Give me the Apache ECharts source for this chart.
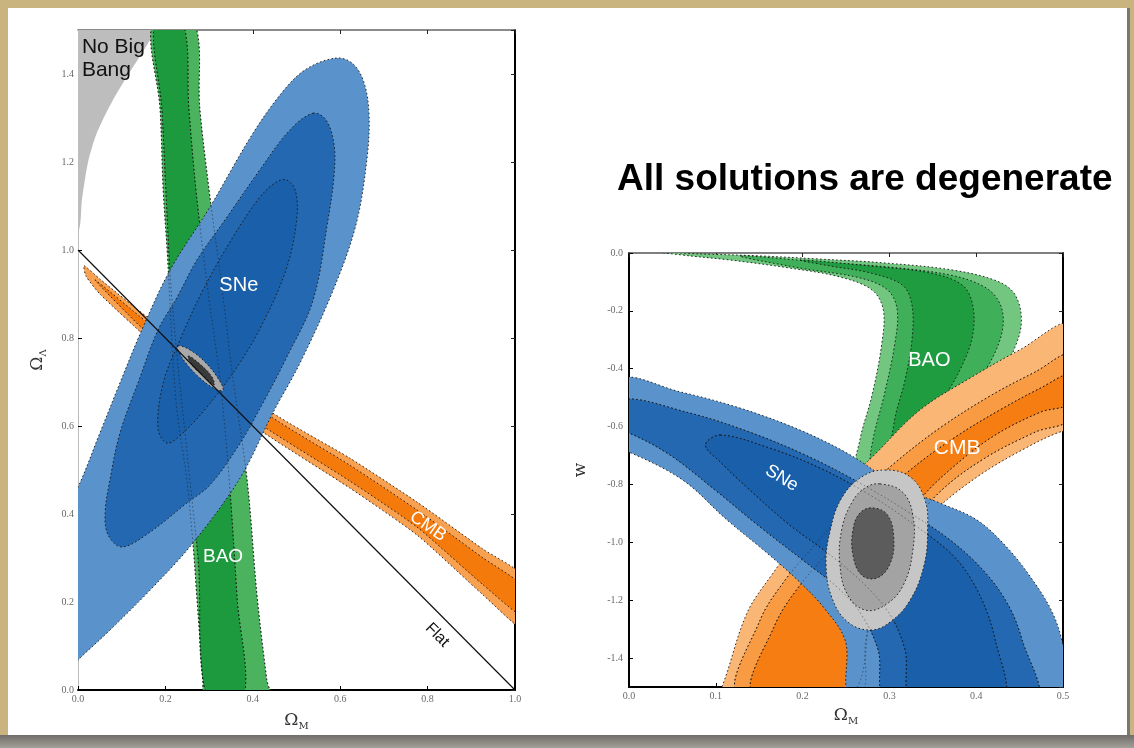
<!DOCTYPE html>
<html>
<head>
<meta charset="utf-8">
<script src="https://cdn.jsdelivr.net/npm/echarts@6/dist/echarts.min.js"></script>
<style>
html, body { margin: 0; padding: 0; }
body { width: 1134px; height: 748px; background: #c9b47f; position: relative; overflow: hidden; }
#panel { position: absolute; left: 8px; top: 8px; width: 1120px; height: 727px; background: #fff; }
#edge { position: absolute; left: 1127px; top: 8px; width: 3px; height: 727px; background: #7a7872; }
#foot { position: absolute; left: 0; top: 735px; width: 1134px; height: 13px; background: linear-gradient(#6f6d68, #a3a098); }
#chart { position: absolute; left: 0; top: 0; width: 1134px; height: 748px; }
</style>
</head>
<body>
<div id="panel"></div>
<div id="edge"></div>
<div id="foot"></div>
<div id="chart"></div>
<script>
// ---- left panel: Omega_M vs Omega_Lambda (contour outlines, data coords) ----
var leftNoBigBang = [[-0.05, 1.6], [0.2, 1.6], [0.176, 1.5], [0.158, 1.466], [0.119, 1.405], [0.08, 1.341], [0.043, 1.266], [0.023, 1.2], [0.009, 1.114], [0, 1.04], [-0.05, 1.01]];
var leftBaoOuter = [[0.172, 1.523], [0.188, 1.318], [0.195, 1.136], [0.204, 1.0], [0.224, 0.659], [0.249, 0.477], [0.263, 0.334], [0.272, 0.211], [0.286, 0.016], [0.288, -0.023], [0.439, -0.023], [0.432, 0.023], [0.410, 0.211], [0.387, 0.477], [0.355, 0.705], [0.330, 0.909], [0.300, 1.136], [0.279, 1.318], [0.263, 1.523]];
var leftBaoInner = [[0.176, 1.523], [0.192, 1.318], [0.201, 1.136], [0.215, 0.886], [0.256, 0.477], [0.275, 0.295], [0.297, -0.023], [0.378, -0.023], [0.364, 0.211], [0.346, 0.477], [0.325, 0.705], [0.297, 0.909], [0.270, 1.136], [0.254, 1.318], [0.238, 1.523]];
var leftCmbOuter = [[0.014, 0.964], [0.050, 0.934], [0.158, 0.848], [0.279, 0.766], [0.439, 0.634], [0.622, 0.527], [0.776, 0.427], [0.927, 0.320], [1.023, 0.255], [1.023, 0.136], [0.927, 0.216], [0.776, 0.352], [0.622, 0.459], [0.423, 0.586], [0.279, 0.691], [0.158, 0.8], [0.050, 0.9], [0.018, 0.941]];
var leftCmbInner = [[0.039, 0.932], [0.158, 0.836], [0.279, 0.75], [0.439, 0.623], [0.622, 0.511], [0.776, 0.409], [0.927, 0.3], [1.023, 0.232], [1.023, 0.164], [0.927, 0.239], [0.776, 0.370], [0.622, 0.475], [0.423, 0.6], [0.279, 0.705], [0.158, 0.811]];
var leftSneOuter = [[0.588, 1.436], [0.627, 1.425], [0.654, 1.382], [0.666, 1.307], [0.661, 1.205], [0.636, 1.057], [0.584, 0.909], [0.508, 0.743], [0.446, 0.630], [0.371, 0.482], [0.263, 0.334], [0.165, 0.227], [0.073, 0.136], [0, 0.068], [-0.053, 0.011], [-0.087, 0.091], [-0.069, 0.273], [-0.037, 0.398], [0, 0.461], [0.050, 0.584], [0.096, 0.698], [0.149, 0.825], [0.211, 0.955], [0.302, 1.098], [0.394, 1.255], [0.462, 1.352], [0.519, 1.409]];
var leftSneMid = [[0.538, 1.311], [0.568, 1.295], [0.586, 1.239], [0.586, 1.170], [0.572, 1.068], [0.538, 0.886], [0.478, 0.757], [0.423, 0.652], [0.371, 0.561], [0.302, 0.466], [0.249, 0.425], [0.165, 0.359], [0.101, 0.325], [0.069, 0.352], [0.062, 0.402], [0.073, 0.477], [0.096, 0.584], [0.142, 0.711], [0.183, 0.818], [0.227, 0.893], [0.272, 0.977], [0.341, 1.075], [0.416, 1.182], [0.485, 1.273]];
var leftSneInner = [[0.478, 1.159], [0.497, 1.136], [0.501, 1.075], [0.478, 0.961], [0.423, 0.834], [0.364, 0.734], [0.295, 0.643], [0.240, 0.584], [0.204, 0.561], [0.183, 0.595], [0.195, 0.698], [0.233, 0.795], [0.286, 0.909], [0.355, 1.030], [0.416, 1.120], [0.455, 1.155]];
var leftJointOuter = [[0.229, 0.782], [0.256, 0.773], [0.291, 0.745], [0.320, 0.709], [0.332, 0.682], [0.314, 0.684], [0.279, 0.709], [0.247, 0.743], [0.231, 0.768]];
var leftJointInner = [[0.252, 0.759], [0.279, 0.741], [0.307, 0.711], [0.311, 0.693], [0.288, 0.714], [0.263, 0.736]];
var flatLine = [[0, 1], [1, 0]];

// ---- right panel: Omega_M vs w ----
var rightBaoOuter = [[0.036, 0.003], [0.082, -0.003], [0.151, -0.010], [0.220, -0.021], [0.297, -0.035], [0.373, -0.059], [0.424, -0.097], [0.445, -0.145], [0.452, -0.242], [0.442, -0.346], [0.427, -0.432], [0.393, -0.543], [0.347, -0.664], [0.301, -0.785], [0.263, -0.750], [0.266, -0.646], [0.280, -0.491], [0.291, -0.318], [0.293, -0.197], [0.280, -0.128], [0.243, -0.083], [0.185, -0.052], [0.116, -0.024], [0.070, -0.010]];
var rightBaoMid = [[0.128, -0.010], [0.220, -0.031], [0.297, -0.048], [0.370, -0.076], [0.410, -0.118], [0.427, -0.173], [0.431, -0.249], [0.422, -0.342], [0.404, -0.432], [0.370, -0.550], [0.329, -0.664], [0.289, -0.785], [0.278, -0.750], [0.281, -0.646], [0.294, -0.491], [0.306, -0.318], [0.309, -0.197], [0.298, -0.128], [0.266, -0.086], [0.197, -0.052]];
var rightBaoInner = [[0.197, -0.024], [0.278, -0.045], [0.347, -0.069], [0.384, -0.111], [0.396, -0.180], [0.396, -0.283], [0.384, -0.387], [0.364, -0.491], [0.329, -0.612], [0.301, -0.733], [0.306, -0.577], [0.318, -0.439], [0.326, -0.301], [0.326, -0.180], [0.315, -0.111], [0.278, -0.069], [0.232, -0.045]];
var rightCmbOuter = [[0.099, -1.528], [0.107, -1.500], [0.136, -1.244], [0.166, -1.106], [0.197, -0.982], [0.243, -0.819], [0.286, -0.688], [0.335, -0.543], [0.393, -0.432], [0.450, -0.335], [0.508, -0.249], [0.508, -0.622], [0.5, -0.615], [0.459, -0.671], [0.401, -0.774], [0.347, -0.906], [0.306, -1.061], [0.283, -1.234], [0.273, -1.528]];
var rightCmbMid = [[0.126, -1.528], [0.151, -1.269], [0.180, -1.130], [0.214, -1.009], [0.260, -0.854], [0.306, -0.726], [0.358, -0.605], [0.416, -0.494], [0.468, -0.411], [0.508, -0.353], [0.508, -0.570], [0.468, -0.619], [0.410, -0.709], [0.358, -0.826], [0.318, -0.975], [0.291, -1.148], [0.273, -1.338], [0.264, -1.528]];
var rightCmbInner = [[0.143, -1.528], [0.168, -1.286], [0.197, -1.148], [0.232, -1.027], [0.278, -0.878], [0.324, -0.750], [0.376, -0.636], [0.427, -0.543], [0.474, -0.467], [0.508, -0.422], [0.508, -0.518], [0.474, -0.550], [0.422, -0.629], [0.376, -0.733], [0.335, -0.854], [0.304, -1.009], [0.280, -1.199], [0.255, -1.528]];
var rightSneOuter = [[-0.010, -0.439], [0.059, -0.480], [0.128, -0.536], [0.197, -0.612], [0.255, -0.698], [0.312, -0.809], [0.358, -0.864], [0.401, -0.923], [0.435, -1.016], [0.465, -1.130], [0.488, -1.244], [0.5, -1.355], [0.510, -1.545], [0.260, -1.545], [0.249, -1.338], [0.224, -1.224], [0.194, -1.130], [0.159, -1.037], [0.113, -0.923], [0.062, -0.785], [0, -0.688], [-0.010, -0.688]];
var rightSneMid = [[-0.010, -0.508], [0.070, -0.553], [0.139, -0.619], [0.203, -0.698], [0.260, -0.785], [0.318, -0.888], [0.370, -0.992], [0.410, -1.103], [0.437, -1.217], [0.453, -1.338], [0.468, -1.545], [0.298, -1.545], [0.287, -1.372], [0.268, -1.251], [0.241, -1.158], [0.203, -1.068], [0.151, -0.947], [0.099, -0.819], [0.047, -0.698], [0, -0.622], [-0.010, -0.622]];
var rightSneInner = [[0.105, -0.629], [0.162, -0.674], [0.220, -0.743], [0.278, -0.837], [0.329, -0.940], [0.376, -1.054], [0.404, -1.182], [0.422, -1.338], [0.430, -1.545], [0.327, -1.545], [0.318, -1.372], [0.301, -1.251], [0.272, -1.148], [0.232, -1.044], [0.185, -0.940], [0.139, -0.819], [0.105, -0.722], [0.088, -0.664]];
var rightJointOuter = [[0.295, -0.750], [0.324, -0.774], [0.341, -0.854], [0.344, -0.957], [0.340, -1.078], [0.324, -1.199], [0.301, -1.275], [0.278, -1.303], [0.252, -1.275], [0.234, -1.193], [0.227, -1.078], [0.232, -0.957], [0.245, -0.847], [0.268, -0.774]];
var rightJointMid = [[0.289, -0.798], [0.315, -0.826], [0.327, -0.906], [0.327, -1.027], [0.316, -1.148], [0.295, -1.217], [0.272, -1.234], [0.252, -1.182], [0.243, -1.078], [0.245, -0.957], [0.257, -0.861], [0.272, -0.812]];
var rightJointInner = [[0.281, -0.881], [0.298, -0.906], [0.305, -0.985], [0.301, -1.072], [0.286, -1.123], [0.268, -1.113], [0.258, -1.044], [0.258, -0.957], [0.266, -0.899]];

// label anchors (data coords)
var leftLabelNames = ['SNe', 'BAO', 'CMB'];
var leftLabelPos = [[0.368, 0.920], [0.332, 0.302], [0.801, 0.372]];
var flatLabelPos = [0.822, 0.125];
var noBigBangPos = [0.009, 1.486];
var rightLabelNames = ['BAO', 'CMB', 'SNe'];
var rightLabelPos = [[0.346, -0.373], [0.378, -0.674], [0.176, -0.778]];

var chart = echarts.init(document.getElementById('chart'));

function contour(pts, fill, axes, opt) {
    opt = opt || {};
    return {
        type: 'custom',
        xAxisIndex: axes[0],
        yAxisIndex: axes[1],
        silent: true,
        data: [pts[0]],
        renderItem: function (params, api) {
            var cs = params.coordSys;
            return {
                type: 'polygon',
                shape: {
                    points: pts.map(function (p) { return api.coord(p); }),
                    smooth: opt.smooth == null ? 0.35 : opt.smooth
                },
                style: {
                    fill: fill || 'none',
                    stroke: opt.noStroke ? null : '#141414',
                    lineWidth: 0.9,
                    lineDash: [1.6, 2.4],
                    opacity: opt.opacity == null ? 1 : opt.opacity
                },
                clipPath: { type: 'rect', shape: { x: cs.x, y: cs.y, width: cs.width, height: cs.height } }
            };
        }
    };
}

function textMark(pos, text, axes, st) {
    return {
        type: 'custom',
        xAxisIndex: axes[0],
        yAxisIndex: axes[1],
        silent: true,
        data: [pos],
        renderItem: function (params, api) {
            var p = api.coord(pos);
            return {
                type: 'text',
                x: p[0],
                y: p[1],
                rotation: st.rotation || 0,
                style: {
                    text: text,
                    fill: st.color || '#fff',
                    fontSize: st.size || 19,
                    fontFamily: 'Liberation Sans',
                    align: st.align || 'center',
                    verticalAlign: st.valign || 'middle',
                    lineHeight: st.lineHeight
                }
            };
        }
    };
}

var tickFmt = function (v) { return v.toFixed(1); };
var labelStyle = { fontFamily: 'Liberation Serif', fontSize: 10, color: '#6a6a6a', margin: 4, formatter: tickFmt };
var nameRich = {
    o: { fontFamily: 'DejaVu Serif', fontSize: 17, color: '#333', lineHeight: 20 },
    s: { fontFamily: 'DejaVu Serif', fontSize: 10, color: '#333', verticalAlign: 'bottom' }
};

function mainAxis(grid, min, max, pos, extra) {
    var a = {
        gridIndex: grid, type: 'value', min: min, max: max, position: pos,
        axisLine: { onZero: false, lineStyle: { color: '#000', width: 2 } },
        axisTick: { inside: true, length: 4, lineStyle: { color: '#000' } },
        axisLabel: Object.assign({}, labelStyle),
        splitLine: { show: false }
    };
    return Object.assign(a, extra || {});
}

function mirrorAxis(grid, min, max, pos, lineColor, lineWidth, extra) {
    var a = {
        gridIndex: grid, type: 'value', min: min, max: max, position: pos,
        axisLine: { onZero: false, lineStyle: { color: lineColor, width: lineWidth } },
        axisTick: { inside: true, length: 4, lineStyle: { color: '#222' } },
        axisLabel: { show: false },
        splitLine: { show: false }
    };
    return Object.assign(a, extra || {});
}

var L = [0, 0];
var R = [2, 2];

var option = {
    animation: false,
    title: {
        text: 'All solutions are degenerate',
        left: 612,
        top: 156,
        textStyle: { fontFamily: 'Liberation Sans', fontWeight: 'bold', fontSize: 37, color: '#000' }
    },
    grid: [
        { left: 78, top: 30, width: 437, height: 660, outerBoundsMode: 'none' },
        { left: 629, top: 253, width: 434, height: 434, outerBoundsMode: 'none' }
    ],
    xAxis: [
        mainAxis(0, 0, 1, 'bottom', {
            interval: 0.2,
            name: '{o|Ω}{s|M}', nameLocation: 'middle', nameGap: 21,
            nameTextStyle: { rich: nameRich }
        }),
        mirrorAxis(0, 0, 1, 'top', '#666', 1.5, { interval: 0.2 }),
        mainAxis(1, 0, 0.5, 'bottom', {
            interval: 0.1,
            name: '{o|Ω}{s|M}', nameLocation: 'middle', nameGap: 19,
            nameTextStyle: { rich: nameRich }
        }),
        mirrorAxis(1, 0, 0.5, 'top', '#555', 1.5, { interval: 0.1 })
    ],
    yAxis: [
        mainAxis(0, 0, 1.5, 'left', {
            interval: 0.2,
            axisLine: { onZero: false, lineStyle: { color: '#bbb', width: 1 } },
            axisLabel: Object.assign({}, labelStyle, { showMaxLabel: false }),
            name: '{o|Ω}{s|Λ}', nameLocation: 'middle', nameGap: 30,
            nameTextStyle: { rich: nameRich }
        }),
        mirrorAxis(0, 0, 1.5, 'right', '#000', 2, { interval: 0.2 }),
        mainAxis(1, -1.5, 0, 'left', {
            splitNumber: 7,
            axisLabel: Object.assign({}, labelStyle, { showMinLabel: false, margin: 6 }),
            name: '{o|w}', nameLocation: 'middle', nameGap: 38,
            nameTextStyle: { rich: nameRich }
        }),
        mirrorAxis(1, -1.5, 0, 'right', '#000', 2, { splitNumber: 7 })
    ],
    series: [
        // left panel
        contour(leftNoBigBang, '#bdbdbd', L, { smooth: 0.25, noStroke: true }),
        contour(leftBaoOuter, '#4bb35e', L),
        contour(leftBaoInner, '#1c9a3d', L),
        contour(leftCmbOuter, '#f8a150', L, { smooth: 0.2 }),
        contour(leftCmbInner, '#f57a0c', L, { smooth: 0.2 }),
        contour(leftSneOuter, '#5a93cb', L),
        contour(leftSneMid, '#2468b2', L),
        contour(leftSneInner, '#1a5fa9', L),
        contour(leftBaoOuter, null, L, { opacity: 0.55 }),
        contour(leftBaoInner, null, L, { opacity: 0.55 }),
        contour(leftJointOuter, '#a9a9a9', L, { smooth: 0.4 }),
        contour(leftJointInner, '#3a3a3a', L, { smooth: 0.4 }),
        {
            type: 'line', xAxisIndex: 0, yAxisIndex: 0, data: flatLine, symbol: 'none', silent: true,
            lineStyle: { color: '#111', width: 1.2 }
        },
        textMark(leftLabelPos[0], leftLabelNames[0], L, { size: 20 }),
        textMark(leftLabelPos[1], leftLabelNames[1], L, { size: 19 }),
        textMark(leftLabelPos[2], leftLabelNames[2], L, { size: 18, rotation: -0.6 }),
        textMark(flatLabelPos, 'Flat', L, { size: 16, color: '#111', rotation: -0.79 }),
        textMark(noBigBangPos, 'No Big\nBang', L, { size: 21, color: '#111', align: 'left', valign: 'top', lineHeight: 23 }),

        // right panel
        contour(rightBaoOuter, '#72c680', R),
        contour(rightBaoMid, '#3fb059', R),
        contour(rightBaoInner, '#1f9b40', R),
        contour(rightCmbOuter, '#fab675', R),
        contour(rightCmbMid, '#f89b42', R),
        contour(rightCmbInner, '#f57d12', R),
        contour(rightSneOuter, '#5a93cb', R),
        contour(rightSneMid, '#2468b2', R),
        contour(rightSneInner, '#1a5fa9', R),
        contour(rightCmbMid, null, R, { opacity: 0.5 }),
        contour(rightCmbInner, null, R, { opacity: 0.5 }),
        contour(rightJointOuter, '#c6c6c6', R, { smooth: 0.4 }),
        contour(rightJointMid, '#a3a3a3', R, { smooth: 0.4 }),
        contour(rightJointInner, '#5c5c5c', R, { smooth: 0.4 }),
        contour(rightSneMid, null, R, { opacity: 0.45 }),
        contour(rightSneInner, null, R, { opacity: 0.45 }),
        textMark(rightLabelPos[0], rightLabelNames[0], R, { size: 20 }),
        textMark(rightLabelPos[1], rightLabelNames[1], R, { size: 21 }),
        textMark(rightLabelPos[2], rightLabelNames[2], R, { size: 18, rotation: -0.55 })
    ]
};

chart.setOption(option);
window.addEventListener('resize', function () {
    chart.resize();
});
</script>
</body>
</html>
